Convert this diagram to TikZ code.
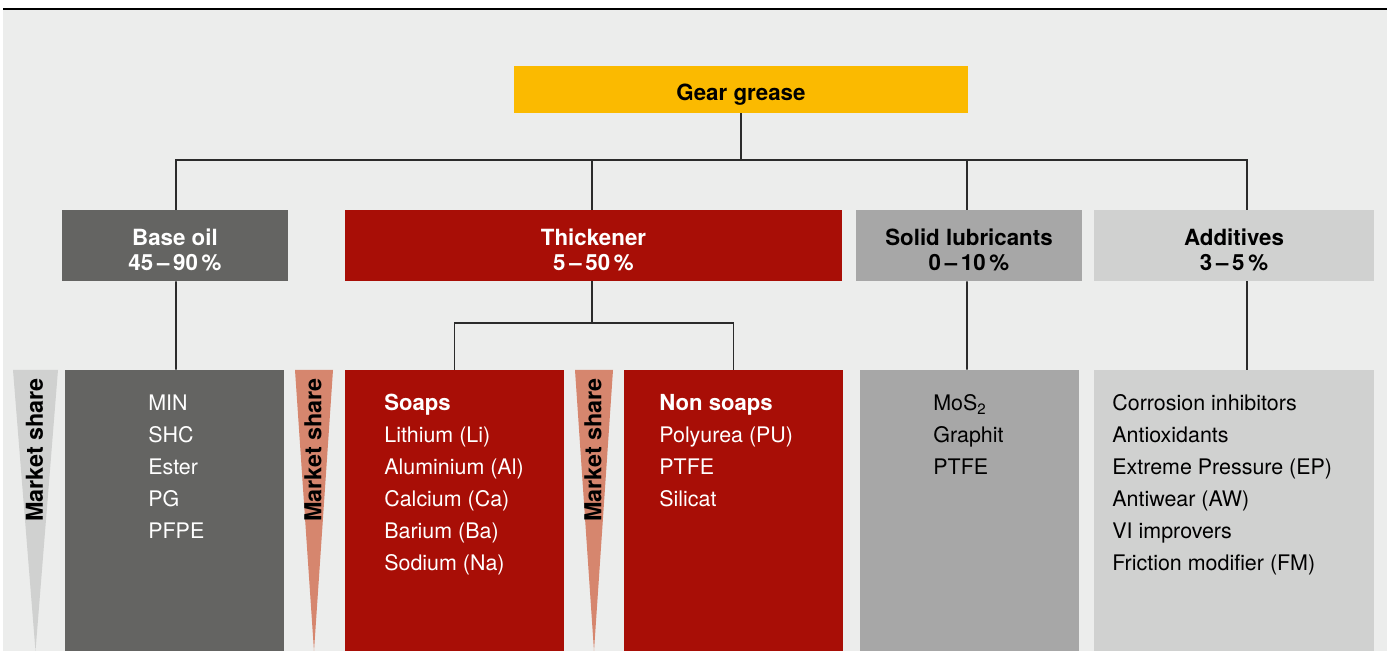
\documentclass[tikz,border=0pt]{standalone}
\usepackage{fontspec}
\setmainfont{TeX Gyre Heros}
\usepackage{tikz}

\definecolor{bggray}{HTML}{ECEDEC}
\definecolor{gearyellow}{HTML}{FBBA00}
\definecolor{oilgray}{HTML}{646462}
\definecolor{thickred}{HTML}{A80E06}
\definecolor{solidgray}{HTML}{A7A7A7}
\definecolor{addgray}{HTML}{D0D1D0}
\definecolor{sharesalmon}{HTML}{D6866E}
\definecolor{linegray}{HTML}{2B2B2B}

% strut that pushes heading text a bit down in its box
\newcommand{\headstrut}{\rule{0pt}{15pt}}

\begin{document}
\begin{tikzpicture}[x=0.02cm, y=-0.02cm]

    % --- DEFINE STYLES ---
    % Style for the heading boxes
    \tikzstyle{box} = [rectangle, inner sep=0pt, align=center, font=\fontsize{12.7}{14.2}\selectfont\bfseries]
    \tikzstyle{head_box} = [box, minimum width=4.52cm, minimum height=1.42cm]
    % Style for the boxes holding the lists
    \tikzstyle{list_box} = [rectangle, inner sep=0pt, minimum width=4.38cm, minimum height=5.62cm]
    % Style for one line of a list
    \tikzstyle{list_item} = [anchor=base west, inner sep=0pt, font=\fontsize{12.2}{14.2}\selectfont]
    \tikzstyle{list_head} = [list_item, font=\fontsize{12.6}{14.2}\selectfont\bfseries]
    \tikzstyle{link} = [draw=linegray, line width=1.1pt]

    % Page and rule on top
    \useasboundingbox (0,0) rectangle (1387,651);
    \fill[bggray] (3,10) rectangle (1387,651);
    \draw[black, line width=1.2pt] (3,9) -- (1387,9);

    % --- HEADINGS ---
    \node[box, fill=gearyellow, minimum width=9.08cm, minimum height=0.94cm] (gear) at (741,89.5) {\headstrut Gear grease};
    \node[head_box, fill=oilgray, text=white] (base) at (175,245.5) {\headstrut Base oil\\45\,--\,90\,\%};
    \node[head_box, fill=thickred, text=white, minimum width=9.94cm] (thick) at (593.5,245.5) {\headstrut Thickener\\5\,--\,50\,\%};
    \node[head_box, fill=solidgray] (solid) at (969,245.5) {\headstrut Solid lubricants\\0\,--\,10\,\%};
    \node[head_box, fill=addgray, minimum width=5.6cm] (addit) at (1234,245.5) {\headstrut Additives\\3\,--\,5\,\%};

    % --- LIST BOXES ---
    \node[list_box, fill=oilgray] (baselist) at (174.5,510.5) {};
    \node[list_box, fill=thickred] (soaps) at (454.5,510.5) {};
    \node[list_box, fill=thickred] (nonsoaps) at (733.5,510.5) {};
    \node[list_box, fill=solidgray] (solidlist) at (969.5,510.5) {};
    \node[list_box, fill=addgray, minimum width=5.6cm] (additlist) at (1234,510.5) {};

    % --- CONNECTORS ---
    \draw[link] (gear.south) -- ++(0,47) -| ([xshift=0.02cm]base.north);
    \draw[link] (gear.south) -- ++(0,47) -| ([xshift=-0.03cm]thick.north);
    \draw[link] (gear.south) -- ++(0,47) -| ([xshift=-0.04cm]solid.north);
    \draw[link] (gear.south) -- ++(0,47) -| ([xshift=0.26cm]addit.north);
    \draw[link] ([xshift=0.02cm]base.south) -- ([xshift=0.03cm]baselist.north);
    \draw[link] ([xshift=-0.03cm]thick.south) -- ++(0,42) -| (soaps.north);
    \draw[link] ([xshift=-0.03cm]thick.south) -- ++(0,42) -| (nonsoaps.north);
    \draw[link] ([xshift=-0.04cm]solid.south) -- ([xshift=-0.05cm]solidlist.north);
    \draw[link] ([xshift=0.26cm]addit.south) -- ([xshift=0.26cm]additlist.north);

    % --- MARKET SHARE WEDGES ---
    \foreach \x/\w/\c [count=\i] in {35.5/22.5/addgray, 314/19/sharesalmon, 594/19/sharesalmon} {
        \fill[\c] (\x-\w,370) -- (\x+\w,370) -- (\x,651) -- cycle;
        \node[rotate=90, inner sep=0pt, font=\fontsize{13.3}{15}\selectfont\bfseries] (share-\i) at (\x-1,450) {Market share};
    }

    % --- LIST ENTRIES ---
    \foreach \t [count=\i from 0] in {MIN,SHC,Ester,PG,PFPE}
        \node[list_item, text=white] (baseitem-\i) at (148,411+32*\i) {\t};

    \node[list_head, text=white] (soapitem-0) at (384,411) {Soaps};
    \foreach \t [count=\i] in {Lithium (Li),Aluminium (Al),Calcium (Ca),Barium (Ba),Sodium (Na)}
        \node[list_item, text=white] (soapitem-\i) at (384,411+32*\i) {\t};

    \node[list_head, text=white] (nonsoapitem-0) at (659,411) {Non soaps};
    \foreach \t [count=\i] in {Polyurea (PU),PTFE,Silicat}
        \node[list_item, text=white] (nonsoapitem-\i) at (659,411+32*\i) {\t};

    \foreach \t [count=\i from 0] in {MoS\textsubscript{2},Graphit,PTFE}
        \node[list_item] (soliditem-\i) at (933,411+32*\i) {\t};

    \foreach \t [count=\i from 0] in {Corrosion inhibitors,Antioxidants,Extreme Pressure (EP),Antiwear (AW),VI improvers,Friction modifier (FM)}
        \node[list_item] (additem-\i) at (1112,411+32*\i) {\t};

\end{tikzpicture}
\end{document}
